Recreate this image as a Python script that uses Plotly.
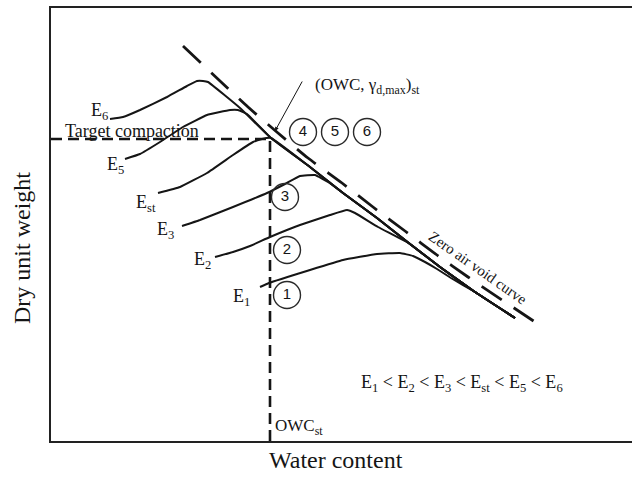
import plotly.graph_objects as go

# Schematic compaction curves (arbitrary units: water content, dry unit weight)
zav_w = [132, 169, 197, 227, 257, 291, 322, 354, 386, 417, 451, 484]
zav_gd = [395, 360, 334, 308, 283, 258, 234, 210, 186, 164, 141, 119]

# Wet-side envelope shared by the compaction curves
env_w = [157, 189, 220, 259, 292, 326, 359, 389, 424, 464]
env_gd = [359, 333, 303, 274, 248, 223, 197, 174, 149, 123]

e6_w = [59, 72, 89, 116, 136, 146, 152]
e6_gd = [322, 324, 331, 344, 355, 360, 360]
e5_w = [74, 89, 109, 132, 156, 179, 187, 196]
e5_gd = [282, 287, 299, 314, 326, 331, 331, 327]
est_w = [107, 129, 156, 182, 202, 211]
est_gd = [248, 254, 268, 286, 299, 302]
e3_w = [131, 149, 182, 216, 234, 249, 264, 277]
e3_gd = [215, 221, 234, 248, 257, 265, 266, 259]
e2_w = [164, 182, 199, 219, 249, 279, 296, 304, 327]
e2_gd = [184, 189, 195, 204, 216, 226, 231, 228, 214]
e1_w = [209, 218, 259, 292, 326, 349, 362, 374, 386, 400]
e1_gd = [154, 158, 171, 181, 187, 188, 185, 179, 172, 163]

curve_names = ["E<sub>6</sub>", "E<sub>5</sub>", "E<sub>st</sub>", "E<sub>3</sub>", "E<sub>2</sub>", "E<sub>1</sub>"]
label_w = [59, 75, 107, 125, 162, 201]
label_gd = [330, 276, 238, 211, 181, 144]

# Target compaction point
owc_st = 219
gd_st = 302

# Numbered markers
circ_w = [236, 236, 234, 252, 284, 316]
circ_gd = [146, 191, 244, 309, 309, 309]
circ_lbl = ["1", "2", "3", "4", "5", "6"]

X_MAX, Y_MAX = 581, 433
INK = "#151515"
SERIF = "Liberation Serif, Times New Roman, serif"

fig = go.Figure()

# Zero air void curve
fig.add_trace(go.Scatter(x=zav_w, y=zav_gd, mode="lines",
                         line=dict(color=INK, width=2.8, dash="24px,14.4px", shape="spline", smoothing=0.6),
                         hoverinfo="skip", showlegend=False))

# Compaction curves: dry branch then the wet-side envelope
for w, gd in [(e6_w, e6_gd), (e5_w, e5_gd), (est_w, est_gd), (e3_w, e3_gd), (e2_w, e2_gd), (e1_w, e1_gd)]:
    tail = [(a, b) for a, b in zip(env_w, env_gd) if a > w[-1]]
    xs = list(w) + [a for a, _ in tail]
    ys = list(gd) + [b for _, b in tail]
    fig.add_trace(go.Scatter(x=xs, y=ys, mode="lines",
                             line=dict(color=INK, width=2, shape="spline", smoothing=0.3),
                             hoverinfo="skip", showlegend=False))

# Target compaction guide lines
fig.add_trace(go.Scatter(x=[0, owc_st], y=[gd_st, gd_st], mode="lines",
                         line=dict(color=INK, width=2.6, dash="11px,6px"),
                         hoverinfo="skip", showlegend=False))
fig.add_trace(go.Scatter(x=[owc_st, owc_st], y=[0, gd_st], mode="lines",
                         line=dict(color=INK, width=2.6, dash="11px,6px"),
                         hoverinfo="skip", showlegend=False))

# Numbered circles
fig.add_trace(go.Scatter(x=circ_w, y=circ_gd, mode="markers+text", text=circ_lbl,
                         textposition="middle center",
                         textfont=dict(family="Liberation Sans, Arial, sans-serif", size=15, color=INK),
                         marker=dict(symbol="circle-open", size=27, color="#2a2a2a", line=dict(width=1.4, color="#2a2a2a")),
                         hoverinfo="skip", showlegend=False))

annotations = []
for name, lw, lg in zip(curve_names, label_w, label_gd):
    annotations.append(dict(x=lw, y=lg, xref="x", yref="y", text=name, showarrow=False,
                            xanchor="right", yanchor="middle",
                            font=dict(family=SERIF, size=18, color=INK)))

annotations += [
    dict(x=12, y=310, xref="x", yref="y", text="Target compaction", showarrow=False,
         xanchor="left", yanchor="middle", font=dict(family=SERIF, size=18, color=INK)),
    dict(x=owc_st + 5, y=gd_st + 8, xref="x", yref="y", ax=252, ay=361, axref="x", ayref="y",
         text="", showarrow=True, arrowhead=2, arrowsize=0.8, arrowwidth=1, arrowcolor=INK),
    dict(x=262, y=355, xref="x", yref="y", text="(OWC, γ<sub>d,max</sub>)<sub>st</sub>", showarrow=False,
         xanchor="left", yanchor="middle", font=dict(family=SERIF, size=17, color=INK)),
    dict(x=427, y=173, xref="x", yref="y", text="Zero air void curve", showarrow=False,
         textangle=35, font=dict(family=SERIF, size=15, color=INK)),
    dict(x=411, y=58, xref="x", yref="y",
         text="E<sub>1</sub> &lt; E<sub>2</sub> &lt; E<sub>3</sub> &lt; E<sub>st</sub> &lt; E<sub>5</sub> &lt; E<sub>6</sub>",
         showarrow=False, font=dict(family=SERIF, size=18, color=INK)),
    dict(x=owc_st + 3, y=14, xref="x", yref="y", text="OWC<sub>st</sub>", showarrow=False,
         xanchor="left", yanchor="middle", font=dict(family=SERIF, size=17, color=INK)),
    dict(x=0.4905, y=-0.044, xref="paper", yref="paper", text="Water content", showarrow=False,
         xanchor="center", yanchor="middle", font=dict(family=SERIF, size=24, color=INK)),
    dict(x=-0.05, y=0.4457, xref="paper", yref="paper", text="Dry unit weight", showarrow=False,
         textangle=-90, xanchor="center", yanchor="middle", font=dict(family=SERIF, size=24, color=INK)),
]

fig.update_layout(
    width=632, height=477,
    margin=dict(l=51, r=0, t=8, b=36),
    paper_bgcolor="white", plot_bgcolor="white",
    annotations=annotations,
    xaxis=dict(range=[0, X_MAX], showgrid=False, zeroline=False, showticklabels=False, ticks="",
               showline=True, mirror=True, linewidth=2, linecolor="#222"),
    yaxis=dict(range=[0, Y_MAX], showgrid=False, zeroline=False, showticklabels=False, ticks="",
               showline=True, mirror=False, linewidth=2, linecolor="#222"),
)

fig.write_html("out.html")
